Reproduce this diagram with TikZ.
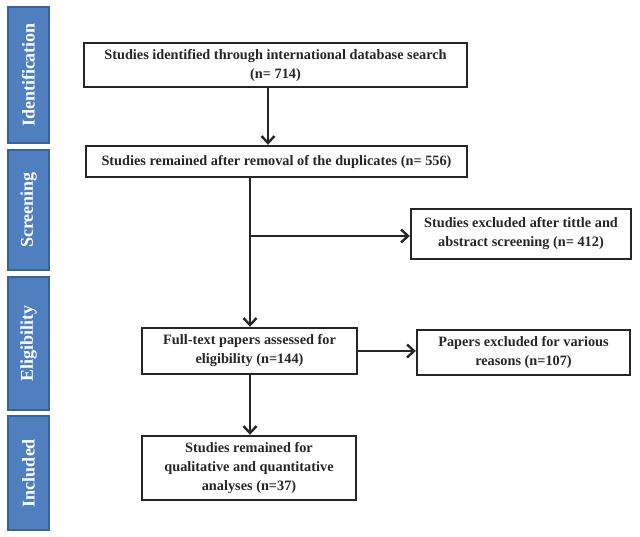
\documentclass[tikz,border=0pt]{standalone}
\usepackage{fontspec}
\setmainfont{Liberation Serif}
\usetikzlibrary{arrows.meta}
\definecolor{barblue}{HTML}{4F7FBE}
\definecolor{baredge}{HTML}{3A639A}
\definecolor{lineg}{HTML}{262626}
\tikzset{
  box/.style={draw=lineg, line width=2.4pt, fill=white, align=center, inner sep=2pt,
    font=\fontsize{14.3}{19}\selectfont\bfseries, text=lineg},
  bar/.style={draw=baredge, line width=1.2pt, fill=barblue, text=white, rotate=90,
    font=\fontsize{18}{20}\selectfont\bfseries, inner sep=0pt},
  arr/.style={draw=lineg, line width=2.4pt, -{Straight Barb[length=7pt,width=13pt,line width=2.4pt]}},
  conn/.style={draw=lineg, line width=2.4pt}
}
\begin{document}
\begin{tikzpicture}[x=1pt,y=-1pt]
\useasboundingbox (0,0) rectangle (640,537);
% side bars
\node[bar, minimum width=136pt, minimum height=41pt] (s1) at (28.5,75) {Identification};
\node[bar, minimum width=120pt, minimum height=41pt] (s2) at (28.5,210) {Screening};
\node[bar, minimum width=133pt, minimum height=41pt] (s3) at (28.5,343.5) {Eligibility};
\node[bar, minimum width=114pt, minimum height=41pt] (s4) at (28.5,473) {Included};
% boxes
\node[box, minimum width=383pt, minimum height=44pt] (b1) at (275.5,65) {Studies identified through international database search\\(n= 714)};
\node[box, minimum width=381pt, minimum height=31pt] (b2) at (276.5,161.5) {Studies remained after removal of the duplicates (n= 556)};
\node[box, minimum width=220pt, minimum height=50pt] (b4) at (521,234) {Studies excluded after tittle and\\abstract screening (n= 412)};
\node[box, minimum width=215pt, minimum height=46pt] (b3) at (249.5,351) {Full-text papers assessed for\\eligibility (n=144)};
\node[box, minimum width=213pt, minimum height=45pt] (b5) at (523.5,352.5) {Papers excluded for various\\reasons (n=107)};
\node[box, minimum width=214pt, minimum height=64pt] (b6) at (249,468) {Studies remained for\\qualitative and quantitative\\analyses (n=37)};
% connectors
\coordinate (a1) at (268,0);
\coordinate (br) at (250,236);
\draw[arr] (b1.south -| a1) -- (b2.north -| a1);
\draw[arr] (b2.south -| br) -- (b3.north -| br);
\draw[arr] (br) -- (br -| b4.west);
\draw[arr] (b3.east) -- (b5.west |- b3.east);
\draw[arr] (b3.south -| br) -- (b6.north -| br);
\end{tikzpicture}
\end{document}
